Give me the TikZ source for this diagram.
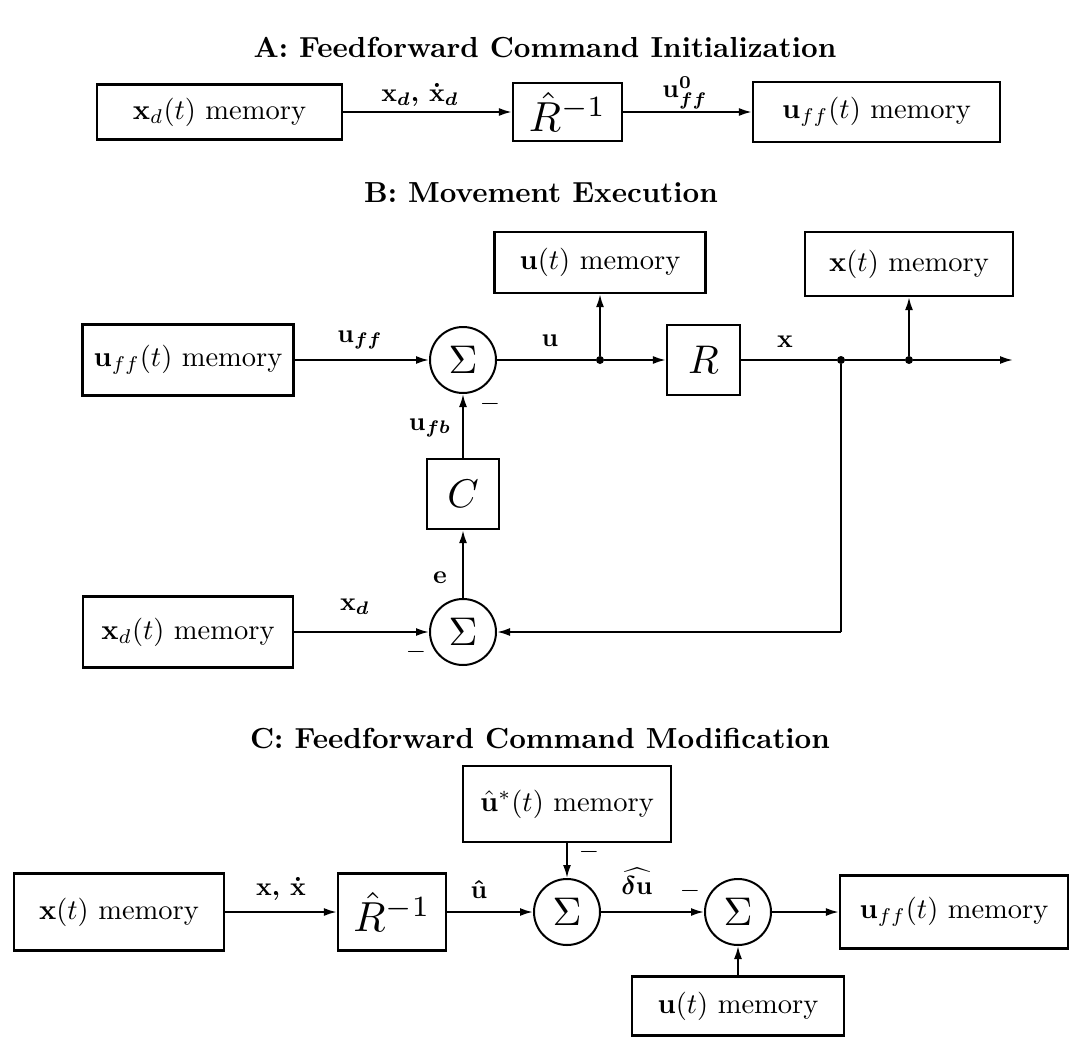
\documentclass[tikz,border=0pt]{standalone}
\usepackage{amsmath}
\usepackage{graphicx}
\usetikzlibrary{arrows.meta}
\newcommand{\Sc}[2]{\scalebox{#1}{#2}}
\newcommand{\Bx}[1]{\scalebox{2.85}{#1}}
\newcommand{\Lb}[1]{\scalebox{2.6}{\boldmath#1}}
\tikzset{
 blk/.style={draw, line width=2.2pt, inner sep=0pt},
 sumn/.style={draw, circle, line width=2pt, minimum size=66pt, inner sep=0pt},
 sig/.style={line width=2pt, -{Latex[length=13pt,width=8pt]}},
 ln/.style={line width=2pt},
 lbl/.style={inner sep=0pt},
 ttl/.style={inner sep=0pt},
 mns/.style={inner sep=0pt},
 jdot/.style={circle, fill, inner sep=0pt, minimum size=8pt},
}
\begin{document}
\begin{tikzpicture}[x=1pt,y=-1pt]
\useasboundingbox (0,0) rectangle (1081,1041);
% ---------- A ----------
\node[ttl] (tA) at (545,48) {\Sc{2.9}{\bfseries A: Feedforward Command Initialization}};
\node[blk, minimum width=245pt, minimum height=55pt] (a1) at (219.5,112) {\Bx{$\mathbf{x}_d(t)$ memory}};
\node[blk, minimum width=109pt, minimum height=58pt] (a2) at (567.5,112) {\Sc{4.2}{$\hat{R}^{-1}$}};
\node[blk, minimum width=247pt, minimum height=60pt] (a3) at (876.5,112) {\Bx{$\mathbf{u}_{ff}(t)$ memory}};
\draw[sig] (a1) -- (a2);
\draw[sig] (a2) -- (a3);
\node[lbl] (la1) at (420,95) {\Lb{$\mathbf{x}_d,\,\dot{\mathbf{x}}_d$}};
\node[lbl] (la2) at (685,93) {\Lb{$\mathbf{u}_{ff}^{0}$}};
% ---------- B ----------
\node[ttl] (tB) at (541,193) {\Sc{2.9}{\bfseries B: Movement Execution}};
\node[blk, minimum width=211pt, minimum height=61pt] (bu) at (600,262.5) {\Bx{$\mathbf{u}(t)$ memory}};
\node[blk, minimum width=208pt, minimum height=64pt] (bx) at (909,264) {\Bx{$\mathbf{x}(t)$ memory}};
\node[blk, minimum width=211pt, minimum height=71pt] (buff) at (188,360) {\Bx{$\mathbf{u}_{ff}(t)$ memory}};
\node[sumn] (s1) at (463,360) {\Sc{4}{$\Sigma$}};
\node[blk, minimum width=73pt, minimum height=70pt] (bR) at (703.5,360) {\Sc{4}{$R$}};
\node[blk, minimum width=72pt, minimum height=70pt] (bC) at (463,494) {\Sc{4}{$C$}};
\node[sumn] (s2) at (463,632) {\Sc{4}{$\Sigma$}};
\node[blk, minimum width=210pt, minimum height=71pt] (bxd) at (188,632) {\Bx{$\mathbf{x}_d(t)$ memory}};
\node[jdot] (j1) at (600,360) {};
\node[jdot] (j2) at (841,360) {};
\node[jdot] (j3) at (909,360) {};
\coordinate (bend) at (1013,360);
\coordinate (fb) at (841,632);
\draw[sig] (buff) -- (s1);
\draw[ln] (s1) -- (j1);
\draw[sig] (j1) -- (bR);
\draw[sig] (j1) -- (bu);
\draw[ln] (bR) -- (j2);
\draw[ln] (j2) -- (j3);
\draw[sig] (j3) -- (bend);
\draw[sig] (j3) -- (bx);
\draw[ln] (j2) -- (fb);
\draw[sig] (fb) -- (s2);
\draw[sig] (bxd) -- (s2);
\draw[sig] (s2) -- (bC);
\draw[sig] (bC) -- (s1);
\node[lbl] (lb1) at (360,340) {\Lb{$\mathbf{u}_{ff}$}};
\node[lbl] (lb2) at (550,341) {\Lb{$\mathbf{u}$}};
\node[lbl] (lb3) at (785,342) {\Lb{$\mathbf{x}$}};
\node[lbl] (lb4) at (430,428) {\Lb{$\mathbf{u}_{fb}$}};
\node[lbl] (lb5) at (440,578) {\Lb{$\mathbf{e}$}};
\node[lbl] (lb6) at (355,607) {\Lb{$\mathbf{x}_d$}};
\node[mns] (m1) at (490,404) {\Sc{2.6}{$-$}};
\node[mns] (m2) at (416,652) {\Sc{2.6}{$-$}};
% ---------- C ----------
\node[ttl] (tC) at (540,738) {\Sc{2.9}{\bfseries C: Feedforward Command Modification}};
\node[blk, minimum width=210pt, minimum height=77pt] (cx) at (119,912) {\Bx{$\mathbf{x}(t)$ memory}};
\node[blk, minimum width=108pt, minimum height=77pt] (cR) at (392,912) {\Sc{4.2}{$\hat{R}^{-1}$}};
\node[blk, minimum width=208pt, minimum height=76pt] (cus) at (567,804) {\Bx{$\hat{\mathbf{u}}^{*}(t)$ memory}};
\node[sumn] (s3) at (567,912) {\Sc{4}{$\Sigma$}};
\node[sumn] (s4) at (738,912) {\Sc{4}{$\Sigma$}};
\node[blk, minimum width=228pt, minimum height=73pt] (cuff) at (954,912) {\Bx{$\mathbf{u}_{ff}(t)$ memory}};
\node[blk, minimum width=212pt, minimum height=59pt] (cu) at (738,1006) {\Bx{$\mathbf{u}(t)$ memory}};
\draw[sig] (cx) -- (cR);
\draw[sig] (cR) -- (s3);
\draw[sig] (cus) -- (s3);
\draw[sig] (s3) -- (s4);
\draw[sig] (cu) -- (s4);
\draw[sig] (s4) -- (cuff);
\node[lbl] (lc1) at (281,889) {\Lb{$\mathbf{x},\,\dot{\mathbf{x}}$}};
\node[lbl] (lc2) at (479,889) {\Lb{$\hat{\mathbf{u}}$}};
\node[lbl] (lc3) at (637,881) {\Lb{$\widehat{\delta\mathbf{u}}$}};
\node[mns] (m3) at (589,852) {\Sc{2.6}{$-$}};
\node[mns] (m4) at (690,891) {\Sc{2.6}{$-$}};
\end{tikzpicture}
\end{document}
